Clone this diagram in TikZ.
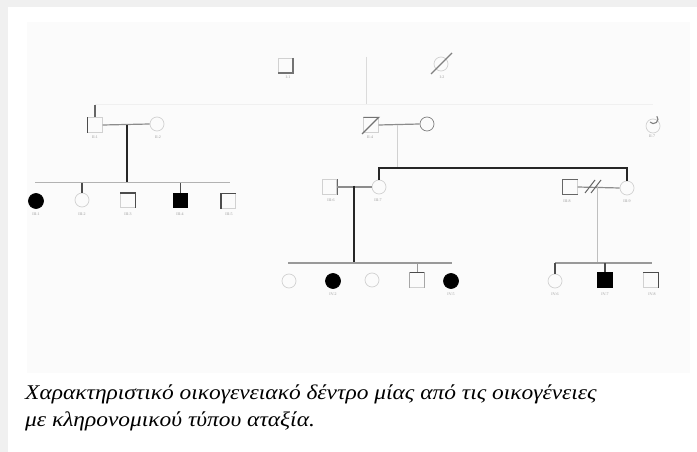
\documentclass[tikz,border=0pt]{standalone}
\usepackage{fontspec}
\setmainfont{Liberation Serif}
\newfontfamily\capfont[FakeStretch=1.12]{Liberation Serif}
\begin{document}
\begin{tikzpicture}[x=1bp,y=-1bp,
  male/.style={rectangle, draw=black!18, line width=0.7bp, minimum size=14.5bp, inner sep=0pt},
  female/.style={circle, draw=black!18, line width=0.7bp, minimum size=14bp, inner sep=0pt},
  aff/.style={fill=black, draw=black},
  edgedark/.style={draw=black!70, line width=1.6bp},
  descent/.style={draw=black!85, line width=2.6bp},
  marr/.style={draw=black!45, line width=1.2bp},
  sib/.style={draw=black!30, line width=1bp},
  faint/.style={draw=black!14, line width=1bp},
  lab/.style={font=\fontsize{4}{4}\selectfont, text=black!40, inner sep=0pt},
  capt/.style={anchor=base west, inner sep=0pt, font=\fontsize{21}{26}\capfont\itshape}
]
\useasboundingbox (0,0) rectangle (697,452);
% background
\fill[white] (0,0) rectangle (697,452);
\fill[black!6] (0,0) rectangle (697,7);
\fill[black!6] (0,0) rectangle (8,452);
\fill[black!1.5] (27,22) rectangle (690,373);

% ---------- Generation I ----------
\node[male] (I1) at (285.5,65.5) {};
\node[female] (I2) at (441,64) {};
\draw[edgedark, draw=black!55] (I1.north east) -- (I1.south east) -- (I1.south west);
\draw[draw=black!50, line width=1.2bp] ([shift={(-10,10)}]I2.center) -- ([shift={(11,-11)}]I2.center);
\coordinate (Ic) at (366,57);
\coordinate (IIsibL) at (95,105);
\coordinate (IIsibR) at (653,105);
\coordinate (IIsibC) at (366,105);
\draw[faint] (Ic) -- (IIsibC);
\draw[draw=black!6, line width=1bp] (IIsibL) -- (IIsibR);
\node[lab] (lI1) at (288,77) {I-1};
\node[lab] (lI2) at (442,77) {I-2};

% ---------- Generation II ----------
\node[male] (II1) at (95,125) {};
\node[female] (II2) at (157,124) {};
\node[male] (II3) at (371,125) {};
\node[female, draw=black!50] (II4) at (427,124) {};
\node[female] (II5) at (653,126) {};
\draw[edgedark] (II1.north west) -- (II1.south west);
\draw[draw=black!60, line width=1.2bp] (IIsibL) -- (II1.north);
\draw[marr] (II1.east) -- (II2.west);
\draw[edgedark, draw=black!55, line width=1.2bp] (II3.north west) -- (II3.north east) -- ([shift={(-9,9)}]II3.center);
\draw[marr] (II3.east) -- (II4.west);
\draw[draw=black!50, line width=1.1bp] ([shift={(-3,-4)}]II5.center) arc (140:-40:4.5);
\node[lab] (lII1) at (95,137) {II-1};
\node[lab] (lII2) at (158,137) {II-2};
\node[lab] (lII3) at (370,137) {II-4};
\node[lab] (lII5) at (652,136) {II-7};

% descent II1 x II2
\coordinate (d1) at (127,125);
\coordinate (s1) at (127,183);
\draw[descent] (d1) -- (s1);
\coordinate (s1L) at (35,183);
\coordinate (s1R) at (230,183);
\draw[sib] (s1L) -- (s1R);

% ---------- Generation III (left family) ----------
\node[female, aff, minimum size=15bp] (III1) at (36,201) {};
\node[female] (III2) at (82,200) {};
\node[male] (III3) at (128,200.5) {};
\node[male, aff] (III4) at (180.5,200.5) {};
\node[male] (III5) at (228.5,201) {};
\draw[edgedark] (82,183) -- (III2.north);
\draw[edgedark] (180.5,183) -- (III4.north);
\draw[edgedark] (III3.north west) -- (III3.north east) -- (III3.south east);
\draw[edgedark] (III5.south west) -- (III5.north west) -- (III5.north east);
\node[lab] (lIII1) at (36,214) {III-1};
\node[lab] (lIII2) at (82,214) {III-2};
\node[lab] (lIII3) at (128,214) {III-3};
\node[lab] (lIII4) at (180,214) {III-4};
\node[lab] (lIII5) at (229,214) {III-5};

% descent II3 x II4
\coordinate (d2) at (397,125);
\coordinate (s2) at (397,168);
\draw[faint, draw=black!18] (d2) -- (s2);

% ---------- Generation III (middle) ----------
\node[male] (III6) at (329.5,187) {};
\node[female] (III7) at (379,187) {};
\node[male] (III8) at (570,187) {};
\node[female] (III9) at (627,188) {};
\draw[descent] (III7.north) -- (379,168) -- (627,168) -- (III9.north);
\draw[edgedark, draw=black!60, line width=1.2bp] (III6.north east) -- (III6.south east);
\draw[edgedark, draw=black!60, line width=1.2bp] (III8.north east) -- (III8.north west) -- (III8.south west) -- (III8.south east);
\draw[marr] (III6.east) -- (III7.west);
\draw[marr] (III8.east) -- (III9.west);
\draw[draw=black!60, line width=1bp] (585,193) -- (595,180) (591,193) -- (601,180);
\node[lab] (lIII6) at (331,200) {III-6};
\node[lab] (lIII7) at (378,200) {III-7};
\node[lab] (lIII8) at (567,201) {III-8};
\node[lab] (lIII9) at (627,201) {III-9};

% descent III6 x III7
\coordinate (d3) at (354,186);
\coordinate (s3) at (354,263);
\draw[descent] (d3) -- (s3);
\coordinate (s3L) at (288,263);
\coordinate (s3R) at (452,263);
\draw[sib, draw=black!40, line width=1.2bp] (s3L) -- (s3R);

% descent III8 x III9
\coordinate (d4) at (597,186);
\coordinate (s4) at (597,263);
\draw[faint, draw=black!25] (d4) -- (s4);
\coordinate (s4L) at (555,263);
\coordinate (s4R) at (652,263);
\draw[sib, draw=black!40, line width=1.2bp] (s4L) -- (s4R);

% ---------- Generation IV ----------
\node[female] (IV1) at (289,281) {};
\node[female, aff, minimum size=15bp] (IV2) at (333,281) {};
\node[female] (IV3) at (372,280) {};
\node[male] (IV4) at (417,280) {};
\node[female, aff, minimum size=15bp] (IV5) at (451,281) {};
\draw[edgedark] (IV4.north west) -- (IV4.north east);
\draw[edgedark, draw=black!35, line width=1bp] (IV4.north west) -- (IV4.south west) (IV4.north east) -- (IV4.south east);
\draw[edgedark, draw=black!40, line width=1bp] (417,263) -- (IV4.north);
\node[lab] (lIV2) at (333,294) {IV-2};
\node[lab] (lIV5) at (451,294) {IV-5};

\node[female] (IV6) at (555,281) {};
\node[male, aff] (IV7) at (605,280) {};
\node[male] (IV8) at (651,280) {};
\draw[edgedark] (555,263) -- (IV6.north);
\draw[edgedark] (605,263) -- (IV7.north);
\draw[edgedark] (IV8.north west) -- (IV8.north east) -- (IV8.south east);
\node[lab] (lIV6) at (555,294) {IV-6};
\node[lab] (lIV7) at (605,294) {IV-7};
\node[lab] (lIV8) at (652,294) {IV-8};

% ---------- Caption ----------
\node[capt] (cap1) at (25,399)
  {Χαρακτηριστικό οικογενειακό δέντρο μίας από τις οικογένειες};
\node[capt] (cap2) at (25,426)
  {με κληρονομικού τύπου αταξία.};
\end{tikzpicture}
\end{document}
